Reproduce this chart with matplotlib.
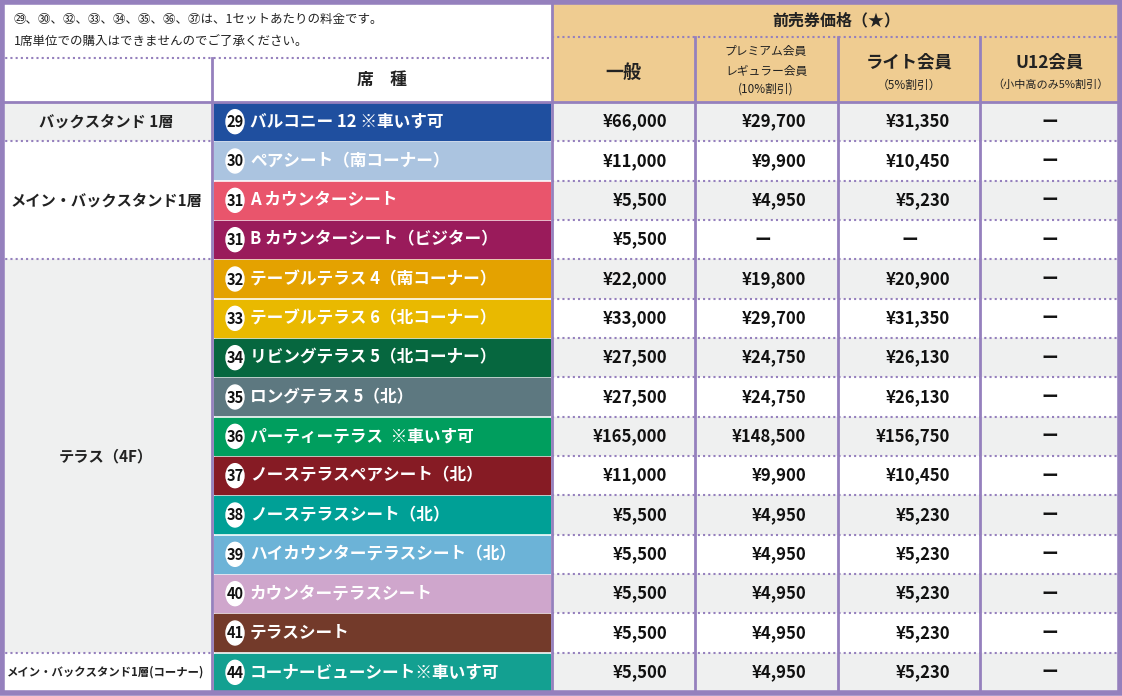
import matplotlib
matplotlib.use("Agg")
import matplotlib.pyplot as plt
from matplotlib.patches import Rectangle, Ellipse

FONT = "Noto Sans CJK JP"
plt.rcParams["font.family"] = FONT

sections = [("バックスタンド 1層", 0, 1), ("メイン・バックスタンド1層", 1, 4),
            ("テラス（4F）", 4, 14), ("メイン・バックスタンド1層(コーナー)", 14, 15)]
seat_nums = ["29", "30", "31", "31", "32", "33", "34", "35", "36", "37", "38", "39", "40", "41", "44"]
seat_names = ["バルコニー 12 ※車いす可", "ペアシート（南コーナー）", "A カウンターシート",
              "B カウンターシート（ビジター）", "テーブルテラス 4（南コーナー）", "テーブルテラス 6（北コーナー）",
              "リビングテラス 5（北コーナー）", "ロングテラス 5（北）", "パーティーテラス  ※車いす可",
              "ノーステラスペアシート（北）", "ノーステラスシート（北）", "ハイカウンターテラスシート（北）",
              "カウンターテラスシート", "テラスシート", "コーナービューシート※車いす可"]
seat_colors = ["#1f4f9f", "#abc4e0", "#e9556c", "#9a1b5b", "#e4a200", "#e9b900", "#06673f", "#5d7880",
               "#009e5e", "#861b24", "#00a096", "#6cb3d7", "#cfa6cc", "#733a2a", "#13a091"]
general = ["¥66,000", "¥11,000", "¥5,500", "¥5,500", "¥22,000", "¥33,000", "¥27,500", "¥27,500",
           "¥165,000", "¥11,000", "¥5,500", "¥5,500", "¥5,500", "¥5,500", "¥5,500"]
premium = ["¥29,700", "¥9,900", "¥4,950", "—", "¥19,800", "¥29,700", "¥24,750", "¥24,750",
           "¥148,500", "¥9,900", "¥4,950", "¥4,950", "¥4,950", "¥4,950", "¥4,950"]
lite = ["¥31,350", "¥10,450", "¥5,230", "—", "¥20,900", "¥31,350", "¥26,130", "¥26,130",
        "¥156,750", "¥10,450", "¥5,230", "¥5,230", "¥5,230", "¥5,230", "¥5,230"]
u12 = ["—"] * 15

W, H = 1122, 696
fig = plt.figure(figsize=(W / 100, H / 100), dpi=100)
ax = fig.add_axes([0, 0, 1, 1])
ax.set_xlim(0, W); ax.set_ylim(H, 0); ax.axis("off")

PUR = "#9580bd"; GRAY = "#eff0f0"; TAN = "#efcc91"
cx = [0, 212, 552, 695, 838, 980, 1120]
top = 102; rh = (692 - 102) / 15
def ry(i): return top + i * rh

ax.add_patch(Rectangle((0, 0), W, H, color="white"))
ax.add_patch(Rectangle((552, 0), 568, 102, color=TAN))

# sections
for name, a, b in sections:
    col = GRAY if a in (0, 4) else "white"
    ax.add_patch(Rectangle((0, ry(a)), 212, ry(b) - ry(a), color=col))
    fs = 8.2 if len(name) > 15 else 11
    ax.text(106, (ry(a) + ry(b)) / 2, name, ha="center", va="center", fontsize=fs, fontweight="bold", color="#222")
    if a > 0:
        ax.plot([0, 212], [ry(a)] * 2, color=PUR, lw=1.5, ls=(0, (1, 1.5)))

# price rows
for i in range(15):
    col = GRAY if i % 2 == 0 else "white"
    ax.add_patch(Rectangle((552, ry(i)), 568, rh, color=col))
    if i > 0:
        ax.plot([552, 1120], [ry(i)] * 2, color=PUR, lw=1.5, ls=(0, (1, 1.5)))
    yc = ry(i) + rh / 2
    for vals, xr, xc in ((general, 667, 623), (premium, 806, 763), (lite, 950, 910), (u12, None, 1050)):
        v = vals[i]
        if v == "—":
            ax.text(xc, yc, "ー", ha="center", va="center", fontsize=12, fontweight="bold", color="#111")
        else:
            ax.text(xr, yc, v, ha="right", va="center", fontsize=12, fontweight="bold", color="#111")

# seats
for i in range(15):
    y0 = ry(i) + 1
    ax.add_patch(Rectangle((214, y0), 336, rh - 2.5, color=seat_colors[i]))
    yc = ry(i) + rh / 2
    ax.add_patch(Ellipse((235, yc), 18, 24, color="white"))
    ax.text(235, yc + 0.5, seat_nums[i], ha="center", va="center", fontsize=10.5, fontweight="bold",
            color="#111", fontstretch="condensed")
    ax.text(250, yc, seat_names[i], ha="left", va="center", fontsize=12, fontweight="bold", color="white")

# headers
ax.text(14, 19, "㉙、㉚、㉜、㉝、㉞、㉟、㊱、㊲は、1セットあたりの料金です。", ha="left", va="center", fontsize=9, color="#222")
ax.text(14, 41, "1席単位での購入はできませんのでご了承ください。", ha="left", va="center", fontsize=9, color="#222")
ax.text(382, 80, "席　種", ha="center", va="center", fontsize=12, fontweight="bold", color="#222")
ax.text(836, 20, "前売券価格（★）", ha="center", va="center", fontsize=11.5, fontweight="bold", color="#222")
ax.text(623, 72, "一般", ha="center", va="center", fontsize=13, fontweight="bold", color="#222")
ax.text(766, 52, "プレミアム会員", ha="center", va="center", fontsize=8.5, color="#222")
ax.text(766, 71, "レギュラー会員", ha="center", va="center", fontsize=8.5, color="#222")
ax.text(766, 89, "(10%割引)", ha="center", va="center", fontsize=8.5, color="#222")
ax.text(909, 62, "ライト会員", ha="center", va="center", fontsize=12.5, fontweight="bold", color="#222")
ax.text(909, 85, "（5%割引）", ha="center", va="center", fontsize=8.5, color="#222")
ax.text(1050, 62, "U12会員", ha="center", va="center", fontsize=12.5, fontweight="bold", color="#222")
ax.text(1050, 85, "（小中高のみ5%割引）", ha="center", va="center", fontsize=8, color="#222")

# lines
ax.plot([0, 552], [58, 58], color=PUR, lw=1.5, ls=(0, (1, 1.5)))
ax.plot([552, 1120], [37, 37], color=PUR, lw=1.5, ls=(0, (1, 1.5)))
ax.plot([0, 1120], [102, 102], color=PUR, lw=2)
ax.plot([212, 212], [58, 692], color=PUR, lw=2)
ax.plot([552, 552], [0, 692], color=PUR, lw=2)
for x in cx[3:6]:
    ax.plot([x, x], [37, 692], color=PUR, lw=2)
ax.add_patch(Rectangle((2, 2), 1118, 691, fill=False, ec=PUR, lw=4))

fig.savefig("out.png", dpi=100)
